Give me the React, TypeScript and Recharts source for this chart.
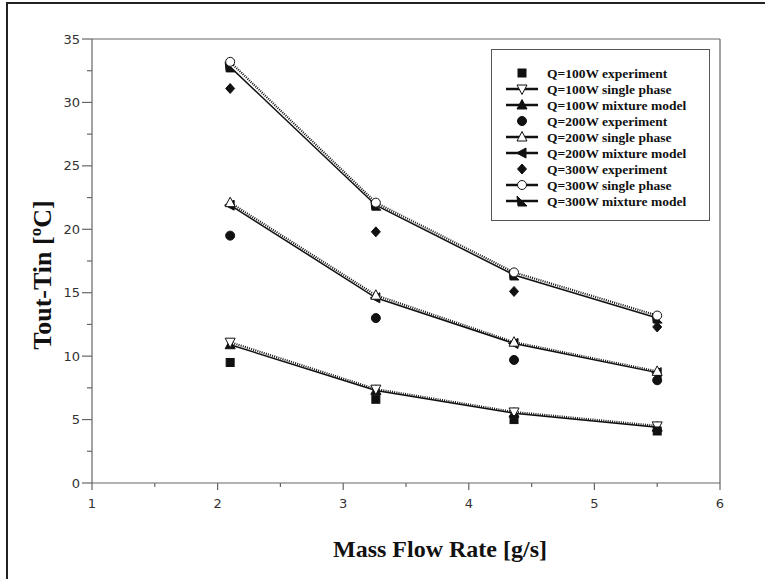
import React from "react";
import { LineChart, Line, XAxis, YAxis, Legend, ReferenceLine } from "recharts";

// mass flow rate [g/s]
const flowRate = [2.1, 3.26, 4.36, 5.5];

// outlet minus inlet temperature [ºC]
const q100Experiment = [9.5, 6.6, 5.0, 4.1];
const q100Single = [11.1, 7.4, 5.6, 4.5];
const q100Mixture = [10.9, 7.3, 5.5, 4.4];
const q200Experiment = [19.5, 13.0, 9.7, 8.1];
const q200Single = [22.1, 14.8, 11.1, 8.8];
const q200Mixture = [21.9, 14.6, 11.0, 8.7];
const q300Experiment = [31.1, 19.8, 15.1, 12.3];
const q300Single = [33.2, 22.1, 16.6, 13.2];
const q300Mixture = [32.8, 21.9, 16.4, 13.0];

const xTicks = [1, 1.5, 2, 2.5, 3, 3.5, 4, 4.5, 5, 5.5, 6];
const yTicks = [0, 2.5, 5, 7.5, 10, 12.5, 15, 17.5, 20, 22.5, 25, 27.5, 30, 32.5, 35];

type Shape =
  | "square"
  | "triangleDown"
  | "triangleUp"
  | "circle"
  | "triangleLeft"
  | "diamond"
  | "flag";

type SeriesDef = {
  key: string;
  name: string;
  values: number[];
  shape: Shape;
  filled: boolean;
  line: "none" | "solid" | "dotted";
};

const series: SeriesDef[] = [
  { key: "q100e", name: "Q=100W experiment", values: q100Experiment, shape: "square", filled: true, line: "none" },
  { key: "q100s", name: "Q=100W single phase", values: q100Single, shape: "triangleDown", filled: false, line: "dotted" },
  { key: "q100m", name: "Q=100W mixture model", values: q100Mixture, shape: "triangleUp", filled: true, line: "solid" },
  { key: "q200e", name: "Q=200W experiment", values: q200Experiment, shape: "circle", filled: true, line: "none" },
  { key: "q200s", name: "Q=200W single phase", values: q200Single, shape: "triangleUp", filled: false, line: "dotted" },
  { key: "q200m", name: "Q=200W mixture model", values: q200Mixture, shape: "triangleLeft", filled: true, line: "solid" },
  { key: "q300e", name: "Q=300W experiment", values: q300Experiment, shape: "diamond", filled: true, line: "none" },
  { key: "q300s", name: "Q=300W single phase", values: q300Single, shape: "circle", filled: false, line: "dotted" },
  { key: "q300m", name: "Q=300W mixture model", values: q300Mixture, shape: "flag", filled: true, line: "solid" },
];

const rows = flowRate.map((x, i) => {
  const row: Record<string, number> = { x };
  series.forEach((s) => {
    row[s.key] = s.values[i];
  });
  return row;
});

// solid lines first, dotted on top, then the bare experiment markers
const drawOrder = [
  ...series.filter((s) => s.line === "solid"),
  ...series.filter((s) => s.line === "dotted"),
  ...series.filter((s) => s.line === "none"),
];

const INK = "#111";
const AXIS = "#666";
const TITLE_FONT = "Liberation Serif";

function Marker({ cx, cy, shape, filled }: { cx: number; cy: number; shape: Shape; filled: boolean }) {
  const fill = filled ? INK : "#fff";
  const common = { fill, stroke: INK, strokeWidth: 1 };
  switch (shape) {
    case "square":
      return <rect x={cx - 4} y={cy - 4} width={8} height={8} {...common} />;
    case "circle":
      return <circle cx={cx} cy={cy} r={4.5} {...common} />;
    case "diamond":
      return <polygon points={`${cx},${cy - 5} ${cx + 4.5},${cy} ${cx},${cy + 5} ${cx - 4.5},${cy}`} {...common} />;
    case "triangleUp":
      return <polygon points={`${cx},${cy - 5.5} ${cx + 5},${cy + 4} ${cx - 5},${cy + 4}`} {...common} />;
    case "triangleDown":
      return <polygon points={`${cx - 5},${cy - 4} ${cx + 5},${cy - 4} ${cx},${cy + 5.5}`} {...common} />;
    case "triangleLeft":
      return <polygon points={`${cx - 5.5},${cy} ${cx + 4},${cy - 5} ${cx + 4},${cy + 5}`} {...common} />;
    case "flag":
      return <polygon points={`${cx - 5},${cy - 5} ${cx + 5},${cy + 5} ${cx - 4},${cy + 5}`} {...common} />;
  }
  return null;
}

function YTick(props: any) {
  const { x, y, payload } = props;
  const major = payload.value % 5 === 0;
  return (
    <g>
      <line x1={x} x2={x - (major ? 10 : 5)} y1={y} y2={y} stroke={AXIS} strokeWidth={1.2} />
      {major && (
        <text x={x - 12} y={y} dy="0.35em" textAnchor="end" fontFamily="DejaVu Sans" fontSize={13} fill="#333">
          {payload.value}
        </text>
      )}
    </g>
  );
}

function XTick(props: any) {
  const { x, y, payload } = props;
  const major = Number.isInteger(payload.value);
  return (
    <g>
      <line x1={x} x2={x} y1={y} y2={y + (major ? 7 : 4)} stroke={AXIS} strokeWidth={1.2} />
      {major && (
        <text x={x} y={y + 20} dy="0.35em" textAnchor="middle" fontFamily="DejaVu Sans" fontSize={13} fill="#333">
          {payload.value}
        </text>
      )}
    </g>
  );
}

function XLabel(props: any) {
  const vb = props.viewBox;
  return (
    <text
      x={vb.x + vb.width / 2 + 34}
      y={vb.y + 66}
      textAnchor="middle"
      dominantBaseline="central"
      fontFamily={TITLE_FONT}
      fontWeight="bold"
      fontSize={24}
      fill={INK}
    >
      Mass Flow Rate [g/s]
    </text>
  );
}

function YLabel(props: any) {
  const vb = props.viewBox;
  const cx = vb.x + 10;
  const cy = vb.y + vb.height / 2 + 14;
  return (
    <text
      transform={`translate(${cx}, ${cy}) rotate(-90)`}
      textAnchor="middle"
      dominantBaseline="central"
      fontFamily={TITLE_FONT}
      fontWeight="bold"
      fontSize={26}
      fill={INK}
    >
      Tout-Tin [ºC]
    </text>
  );
}

function LegendBox() {
  return (
    <div style={{ width: 219, height: 172, border: "1px solid #555", boxSizing: "border-box", background: "#fff" }}>
      <svg width={217} height={170}>
        {series.map((s, i) => {
          const y = 23 + i * 16;
          return (
            <g key={s.key}>
              {s.line !== "none" && <line x1={14} x2={46} y1={y} y2={y} stroke={INK} strokeWidth={2.5} />}
              <Marker cx={30} cy={y} shape={s.shape} filled={s.filled} />
              <text x={55} y={y} dy="0.35em" fontFamily={TITLE_FONT} fontWeight="bold" fontSize={13.5} fill={INK}>
                {s.name}
              </text>
            </g>
          );
        })}
      </svg>
    </div>
  );
}

export default function App() {
  return (
    <div style={{ position: "absolute", left: 0, top: 0, width: 765, height: 579, overflow: "hidden", background: "#fff" }}>
      <LineChart width={765} height={579} data={rows} margin={{ top: 39, right: 45, left: 32, bottom: 21 }}>
        <XAxis
          type="number"
          dataKey="x"
          domain={[1, 6]}
          ticks={xTicks}
          interval={0}
          height={75}
          tickSize={0}
          tickMargin={0}
          tickLine={false}
          axisLine={{ stroke: AXIS, strokeWidth: 1.2 }}
          tick={<XTick />}
          label={{ content: <XLabel /> }}
        />
        <YAxis
          type="number"
          domain={[0, 35]}
          ticks={yTicks}
          interval={0}
          width={60}
          tickSize={0}
          tickMargin={0}
          tickLine={false}
          axisLine={{ stroke: AXIS, strokeWidth: 1.2 }}
          tick={<YTick />}
          label={{ content: <YLabel /> }}
        />
        <ReferenceLine y={35} stroke={AXIS} strokeWidth={1.2} />
        <ReferenceLine x={6} stroke={AXIS} strokeWidth={1.2} />
        <Legend
          layout="vertical"
          align="center"
          verticalAlign="middle"
          wrapperStyle={{ left: 491, top: 49, width: 219 }}
          content={() => <LegendBox />}
        />
        {drawOrder.map((s) => (
          <Line
            key={s.key}
            dataKey={s.key}
            name={s.name}
            type="linear"
            stroke={s.line === "none" ? "none" : INK}
            strokeWidth={s.line === "dotted" ? 2.2 : 1.5}
            strokeDasharray={s.line === "dotted" ? "1 1.2" : undefined}
            dot={(p: any) => (
              <Marker key={`${s.key}-${p.index}`} cx={p.cx} cy={p.cy} shape={s.shape} filled={s.filled} />
            )}
            activeDot={false}
            isAnimationActive={false}
          />
        ))}
      </LineChart>
      {/* page frame, only its top and left edges fall inside the view */}
      <div
        style={{
          position: "absolute",
          left: 6,
          top: 2,
          width: 900,
          height: 900,
          borderLeft: "2px solid #222",
          borderTop: "2px solid #222",
          pointerEvents: "none",
          zIndex: 2,
        }}
      />
    </div>
  );
}
